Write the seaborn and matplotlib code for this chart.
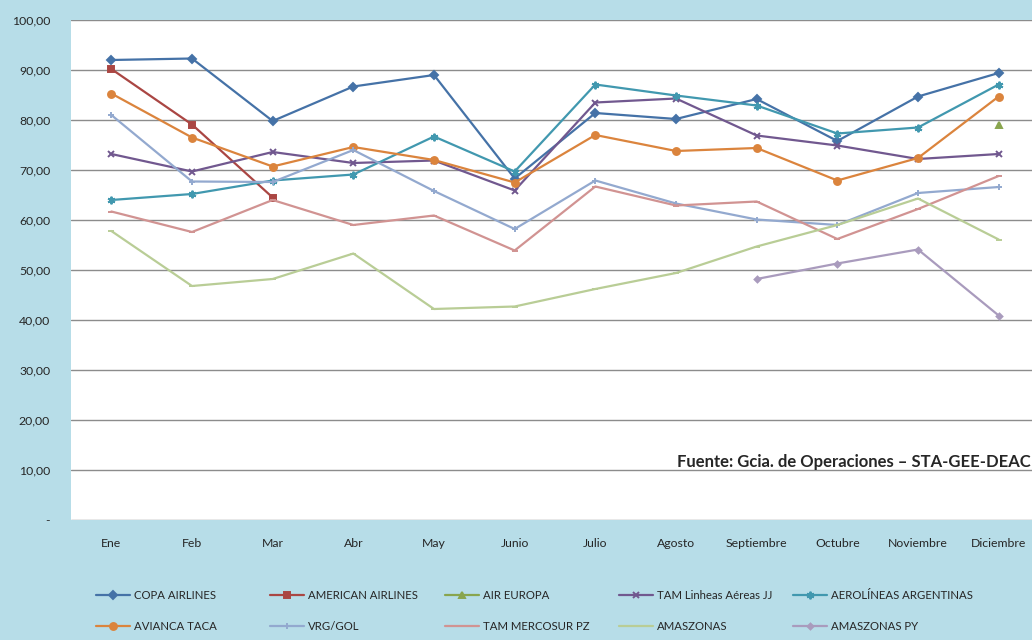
import numpy as np
import pandas as pd
import seaborn as sns
import matplotlib.pyplot as plt

meses = ['Ene', 'Feb', 'Mar', 'Abr', 'May', 'Junio', 'Julio', 'Agosto',
         'Septiembre', 'Octubre', 'Noviembre', 'Diciembre']
nan = np.nan

copa = [92.0, 92.3, 79.8, 86.7, 89.0, 68.3, 81.4, 80.2, 84.2, 75.8, 84.7, 89.4]
american = [90.2, 79.1, 64.5, nan, nan, nan, nan, nan, nan, nan, nan, nan]
air_europa = [nan, nan, nan, nan, nan, nan, nan, nan, nan, nan, nan, 79.0]
tam_jj = [73.2, 69.7, 73.6, 71.4, 71.9, 65.9, 83.5, 84.3, 76.9, 74.9, 72.2, 73.2]
aerolineas = [64.0, 65.2, 67.9, 69.1, 76.7, 69.7, 87.1, 84.9, 82.9, 77.3, 78.5, 87.1]
avianca = [85.3, 76.5, 70.7, 74.6, 72.0, 67.5, 77.0, 73.8, 74.4, 67.9, 72.4, 84.7]
gol = [81.0, 67.7, 67.6, 74.0, 65.8, 58.2, 67.9, 63.3, 60.1, 59.0, 65.4, 66.6]
tam_mercosur = [61.7, 57.6, 64.0, 59.0, 60.9, 53.9, 66.7, 62.9, 63.7, 56.2, 62.2, 68.8]
amaszonas = [57.8, 46.8, 48.2, 53.3, 42.2, 42.7, 46.2, 49.4, 54.7, 59.0, 64.3, 56.1]
amaszonas_py = [nan, nan, nan, nan, nan, nan, nan, nan, 48.2, 51.3, 54.1, 40.9]

series = [
    ('COPA AIRLINES', copa, '#4572A7', 'D', 3.8),
    ('AMERICAN AIRLINES', american, '#AA4643', 's', 4.5),
    ('AIR EUROPA', air_europa, '#89A54E', '^', 5),
    ('TAM Linheas Aéreas JJ', tam_jj, '#71588F', 'x', 4.5),
    ('AEROLÍNEAS ARGENTINAS', aerolineas, '#4198AF', (6, 2, 0), 5.5),
    ('AVIANCA TACA', avianca, '#DB843D', 'o', 5),
    ('VRG/GOL', gol, '#93A9CF', '+', 5),
    ('TAM MERCOSUR PZ', tam_mercosur, '#D19392', '_', 4),
    ('AMASZONAS', amaszonas, '#B9CD96', '_', 4),
    ('AMASZONAS PY', amaszonas_py, '#A99BBD', 'D', 3),
]

sns.set_style('white')
plt.rcParams['font.family'] = ['Lato', 'DejaVu Sans']

bg = '#B7DDE8'
fig = plt.figure(figsize=(10.32, 6.4), dpi=100, facecolor=bg)
ax = fig.add_axes([71 / 1032, 1 - 520 / 640, 968 / 1032, 500 / 640])
ax.set_facecolor('white')

x = np.arange(len(meses))
for name, vals, color, marker, ms in series:
    df = pd.DataFrame({'mes': x, 'valor': vals})
    sns.lineplot(data=df, x='mes', y='valor', color=color, marker=marker,
                 markersize=ms, markeredgecolor=color, markeredgewidth=1.4,
                 linewidth=1.6, label=name, ax=ax)

ax.set_xlim(-0.5, 11.5)
ax.set_ylim(0, 100)
ax.set_yticks(range(0, 101, 10))
ax.set_yticklabels(['-'] + [f'{v},00' for v in range(10, 101, 10)], fontsize=8.8)
ax.set_xticks(x)
ax.set_xticklabels(meses, fontsize=8.8)
ax.tick_params(axis='y', length=0, pad=15)
ax.tick_params(axis='x', length=0, pad=13)
ax.set_xlabel('')
ax.set_ylabel('')
ax.grid(axis='y', color='#8c8c8c', linewidth=1)
ax.set_axisbelow(True)
for s in ax.spines.values():
    s.set_visible(False)

handles, labels = ax.get_legend_handles_labels()
ax.get_legend().remove()

col_x = [96, 270, 445, 619, 793]
for i, cx in enumerate(col_x):
    leg = fig.legend([handles[i], handles[i + 5]], [labels[i], labels[i + 5]],
                     loc='upper left', bbox_to_anchor=(cx / 1032, 1 - 590 / 640),
                     frameon=False, fontsize=8.2, handlelength=3.0,
                     handletextpad=0.35, borderpad=0, borderaxespad=0,
                     labelspacing=1.75)

fig.text(677 / 1032, 1 - 462 / 640, 'Fuente: Gcia. de Operaciones – STA-GEE-DEAC',
         fontsize=12, fontweight='bold', va='center', ha='left')

fig.savefig('out.png', dpi=100, facecolor=bg)
